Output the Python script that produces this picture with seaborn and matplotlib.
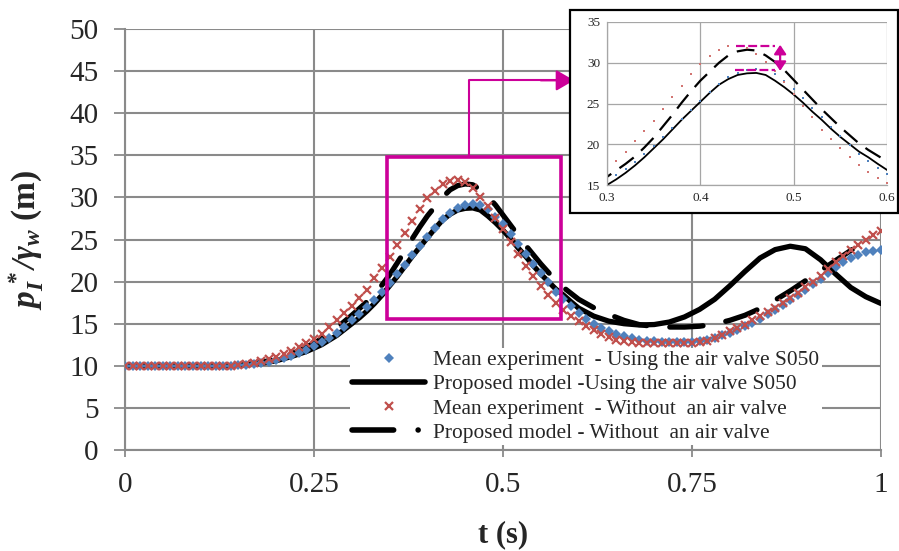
import numpy as np
import pandas as pd
import seaborn as sns
import matplotlib
matplotlib.use("Agg")
import matplotlib.pyplot as plt
from matplotlib.lines import Line2D
from matplotlib.patches import Rectangle

# ---------------- data ----------------
t_exp = [round(0.01 * i, 2) for i in range(101)]

exp_with_valve = [
    10.0, 10.0, 10.0, 10.0, 10.0, 10.0, 10.0, 10.0, 10.0, 10.0,
    10.0, 10.0, 10.0, 10.0, 10.0, 10.05, 10.1, 10.2, 10.35, 10.5,
    10.7, 10.9, 11.2, 11.5, 11.9, 12.3, 12.8, 13.3, 13.9, 14.6,
    15.4, 16.2, 17.0, 17.8, 18.8, 19.8, 20.9, 22.0, 23.1, 24.2,
    25.3, 26.4, 27.4, 28.2, 28.8, 29.1, 29.2, 29.1, 28.6, 27.7,
    26.8, 25.7, 24.5, 23.3, 22.1, 21.0, 19.9, 18.8, 17.9, 17.1,
    16.3, 15.6, 15.0, 14.5, 14.1, 13.8, 13.5, 13.3, 13.1, 13.0,
    12.9, 12.8, 12.8, 12.8, 12.8, 12.8, 12.9, 13.1, 13.3, 13.6,
    13.9, 14.3, 14.7, 15.1, 15.6, 16.1, 16.6, 17.2, 17.8, 18.4,
    19.0, 19.7, 20.3, 21.0, 21.7, 22.3, 22.8, 23.2, 23.5, 23.6,
    23.7,
]

exp_without_valve = [
    10.0, 10.0, 10.0, 10.0, 10.0, 10.0, 10.0, 10.0, 10.0, 10.0,
    10.0, 10.0, 10.0, 10.0, 10.0, 10.1, 10.2, 10.35, 10.55, 10.8,
    11.1, 11.4, 11.8, 12.2, 12.7, 13.2, 13.8, 14.6, 15.4, 16.3,
    17.1, 18.0, 19.0, 20.4, 21.6, 22.9, 24.3, 25.8, 27.2, 28.6,
    29.9, 30.8, 31.6, 32.0, 32.1, 31.8, 31.1, 30.1, 29.0, 27.6,
    26.2, 24.7, 23.3, 21.8, 20.7, 19.5, 18.4, 17.4, 16.6, 15.9,
    15.3, 14.7, 14.2, 13.8, 13.4, 13.1, 12.9, 12.8, 12.7, 12.7,
    12.7, 12.7, 12.7, 12.7, 12.7, 12.7, 12.8, 13.0, 13.3, 13.7,
    14.1, 14.5, 14.9, 15.4, 15.9, 16.4, 16.9, 17.4, 18.0, 18.6,
    19.3, 20.0, 20.7, 21.5, 22.3, 23.0, 23.7, 24.4, 25.0, 25.5,
    26.0,
]

t_model = [0.00, 0.02, 0.04, 0.06, 0.08, 0.10, 0.12, 0.14, 0.16, 0.18,
           0.20, 0.22, 0.24, 0.26, 0.28, 0.30, 0.31, 0.32, 0.33, 0.34,
           0.35, 0.36, 0.37, 0.38, 0.39, 0.40, 0.41, 0.42, 0.43, 0.44,
           0.45, 0.46, 0.47, 0.48, 0.49, 0.50, 0.51, 0.52, 0.53, 0.54,
           0.55, 0.56, 0.57, 0.58, 0.59, 0.60, 0.62, 0.64, 0.66, 0.68,
           0.70, 0.72, 0.74, 0.76, 0.78, 0.80, 0.82, 0.84, 0.86, 0.88,
           0.90, 0.92, 0.94, 0.96, 0.98, 1.00]

model_with_valve = [
    10.0, 10.0, 10.0, 10.0, 10.0, 10.0, 10.0, 10.0, 10.1, 10.3,
    10.6, 11.1, 11.7, 12.5, 13.6, 15.0, 15.7, 16.5, 17.4, 18.4,
    19.5, 20.6, 21.8, 23.0, 24.1, 25.2, 26.3, 27.3, 28.0, 28.5,
    28.7, 28.75, 28.5, 27.8, 27.0, 26.1, 25.1, 24.0, 23.0, 21.9,
    20.9, 20.0, 19.1, 18.4, 17.6, 16.85, 15.9, 15.3, 15.0, 14.85,
    14.9, 15.2, 15.8, 16.7, 17.9, 19.5, 21.2, 22.8, 23.8, 24.2,
    23.9, 22.6, 20.9, 19.3, 18.2, 17.4,
]

model_without_valve = [
    10.0, 10.0, 10.0, 10.0, 10.0, 10.0, 10.0, 10.0, 10.1, 10.4,
    10.8, 11.4, 12.2, 13.2, 14.5, 16.0, 16.8, 17.6, 18.5, 19.6,
    20.8, 22.2, 23.6, 25.1, 26.5, 27.8, 28.9, 30.0, 30.9, 31.4,
    31.6, 31.5, 30.9, 30.1, 29.1, 27.9, 26.7, 25.5, 24.3, 23.2,
    22.1, 21.1, 20.1, 19.3, 18.6, 17.9, 16.9, 16.1, 15.4, 14.9,
    14.65, 14.6, 14.6, 14.7, 14.95, 15.4, 16.0, 16.8, 17.8, 18.9,
    20.1, 21.3, 22.5, 23.7, 24.8, None,
]

labels = [
    "Mean experiment  - Using the air valve S050",
    "Proposed model -Using the air valve S050",
    "Mean experiment  - Without  an air valve",
    "Proposed model - Without  an air valve",
]
x_ticks = [0, 0.25, 0.5, 0.75, 1]
x_ticklabels = ["0", "0.25", "0.5", "0.75", "1"]
y_ticks = [0, 5, 10, 15, 20, 25, 30, 35, 40, 45, 50]
inset_xticks = [0.3, 0.4, 0.5, 0.6]
inset_yticks = [15, 20, 25, 30, 35]

# ---------------- style ----------------
sns.set_style("white")
plt.rcParams["font.family"] = ["Liberation Serif", "DejaVu Serif"]
plt.rcParams["mathtext.fontset"] = "custom"
plt.rcParams["mathtext.rm"] = "Liberation Serif"
plt.rcParams["mathtext.it"] = "Liberation Serif:italic"
plt.rcParams["mathtext.bf"] = "Liberation Serif:bold"
plt.rcParams["mathtext.bfit"] = "Liberation Serif:italic:bold"

BLUE = "#4F81BD"
RED = "#C0504D"
MAG = "#CC0099"
GRID = "#8A8A8A"

df_exp = pd.DataFrame({"t": t_exp, "with": exp_with_valve, "without": exp_without_valve})
df_mod = pd.DataFrame({"t": t_model, "with": model_with_valve,
                       "without": pd.to_numeric(pd.Series(model_without_valve), errors="coerce")})
df_mod_wo = df_mod.dropna(subset=["without"])

W, H = 899, 551
fig = plt.figure(figsize=(W / 100, H / 100), dpi=100)
ax = fig.add_axes([125 / W, 1 - 450 / H, 756 / W, 421 / H])

# model lines
sns.lineplot(data=df_mod, x="t", y="with", ax=ax, color="black", lw=3.8,
             estimator=None, sort=False, solid_capstyle="round", zorder=3)
sns.lineplot(data=df_mod_wo, x="t", y="without", ax=ax, color="black", lw=3.8,
             estimator=None, sort=False, dashes=False, zorder=3)
ax.lines[-1].set_dashes((6.3, 4.4))
ax.lines[-1].set_dash_capstyle("round")

# experiment markers
sns.lineplot(data=df_exp, x="t", y="with", ax=ax, estimator=None, sort=False,
             linestyle="none", marker="D", markersize=5.6, color=BLUE,
             markeredgecolor=BLUE, markeredgewidth=0, zorder=4)
sns.lineplot(data=df_exp, x="t", y="without", ax=ax, estimator=None, sort=False,
             linestyle="none", marker="x", markersize=5.5, color=RED,
             markeredgecolor=RED, markeredgewidth=1.6, zorder=4)

ax.set_xlim(0, 1)
ax.set_ylim(0, 50)
ax.set_xticks(x_ticks)
ax.set_xticklabels(x_ticklabels)
ax.set_yticks(y_ticks)
ax.grid(True, color=GRID, lw=1.5)
ax.set_axisbelow(True)
for s in ["top", "right"]:
    ax.spines[s].set_visible(False)
for s in ["left", "bottom"]:
    ax.spines[s].set_color(GRID)
    ax.spines[s].set_linewidth(1.5)
ax.tick_params(axis="y", direction="out", length=8, width=1.3, color=GRID,
               labelsize=21, pad=11, left=True)
ax.tick_params(axis="x", direction="out", length=5, width=1.3, color=GRID,
               labelsize=21, pad=11, bottom=True)
ax.set_xlabel("t (s)", fontsize=22, fontweight="bold", labelpad=16)
ax.set_ylabel(r"$\mathbfit{p_{I}^{\,*}/\gamma_{w}}$" + " (m)", fontsize=24,
              fontweight="bold")
ax.yaxis.set_label_coords(-0.105, 0.5)

# magenta zoom box and connector
ax.add_patch(Rectangle((0.347, 15.6), 0.23, 19.2, fill=False, edgecolor=MAG,
                       lw=2.6, zorder=5))
ax.plot([0.4555, 0.4555, 0.57], [34.8, 43.9, 43.9], color=MAG, lw=1.5,
        zorder=5, solid_capstyle="butt")
ax.annotate("", xy=(0.594, 43.9), xytext=(0.55, 43.9),
            arrowprops=dict(arrowstyle="-|>,head_length=0.55,head_width=0.32",
                            mutation_scale=20, color=MAG, lw=1.5,
                            shrinkA=0, shrinkB=0),
            annotation_clip=False, zorder=5)

# legend
handles = [
    Line2D([], [], marker="D", color=BLUE, linestyle="none", markersize=5,
           markeredgewidth=0),
    Line2D([], [], color="black", lw=4, solid_capstyle="round"),
    Line2D([], [], marker="x", color=RED, linestyle="none", markersize=5.5,
           markeredgewidth=1.6),
    Line2D([], [], color="black", lw=4, dashes=(7.5, 4.4, 0.01, 4.4),
           dash_capstyle="round"),
]
leg = ax.legend(handles, labels, loc="upper left",
                bbox_to_anchor=(350 / W, 1 - 348 / H), bbox_transform=fig.transFigure,
                fontsize=15.4, frameon=True, framealpha=1, facecolor="white",
                edgecolor="none", fancybox=False, borderpad=0.1,
                handlelength=3.4, handletextpad=0.4, labelspacing=0.2,
                borderaxespad=0)
leg.set_zorder(6)

# inset chart-area frame
frame = Rectangle((570 / W, 1 - 213 / H), 328 / W, 203 / H, transform=fig.transFigure,
                  facecolor="white", edgecolor="black", lw=1.6, zorder=1)
fig.add_artist(frame)

ins = fig.add_axes([607 / W, 1 - 185 / H, 280 / W, 163 / H], zorder=2)
ins.set_facecolor("white")
sns.lineplot(data=df_mod, x="t", y="with", ax=ins, color="black", lw=1.3,
             estimator=None, sort=False)
sns.lineplot(data=df_mod_wo, x="t", y="without", ax=ins, color="black", lw=1.6,
             estimator=None, sort=False)
ins.lines[-1].set_dashes((8, 4.5))
sns.lineplot(data=df_exp, x="t", y="with", ax=ins, estimator=None, sort=False,
             linestyle="none", marker="s", markersize=1.7, color=BLUE,
             markeredgewidth=0)
sns.lineplot(data=df_exp, x="t", y="without", ax=ins, estimator=None, sort=False,
             linestyle="none", marker="s", markersize=1.7, color="#D27572",
             markeredgewidth=0)
ins.set_xlim(0.3, 0.6)
ins.set_ylim(15, 35)
ins.set_xticks(inset_xticks)
ins.set_xticklabels(["0.3", "0.4", "0.5", "0.6"])
ins.set_yticks(inset_yticks)
ins.grid(True, color="#A6A6A6", lw=0.9)
ins.set_axisbelow(True)
for s in ["top", "right"]:
    ins.spines[s].set_visible(False)
for s in ["left", "bottom"]:
    ins.spines[s].set_color("#A6A6A6")
    ins.spines[s].set_linewidth(0.9)
ins.tick_params(labelsize=9.5, length=0, pad=5)
ins.set_xlabel("")
ins.set_ylabel("")

# inset magenta annotation
ins.plot([0.438, 0.48], [32.1, 32.1], color=MAG, lw=1.6, dashes=(4, 1.5),
         clip_on=False)
ins.plot([0.437, 0.48], [29.1, 29.1], color=MAG, lw=1.6, dashes=(4, 1.5),
         clip_on=False)
ins.annotate("", xy=(0.4855, 32.2), xytext=(0.4855, 29.0),
             arrowprops=dict(arrowstyle="<|-|>,head_length=0.45,head_width=0.3",
                             mutation_scale=12, color=MAG, lw=1.6,
                             shrinkA=0, shrinkB=0))

fig.savefig("out.png", dpi=100)
